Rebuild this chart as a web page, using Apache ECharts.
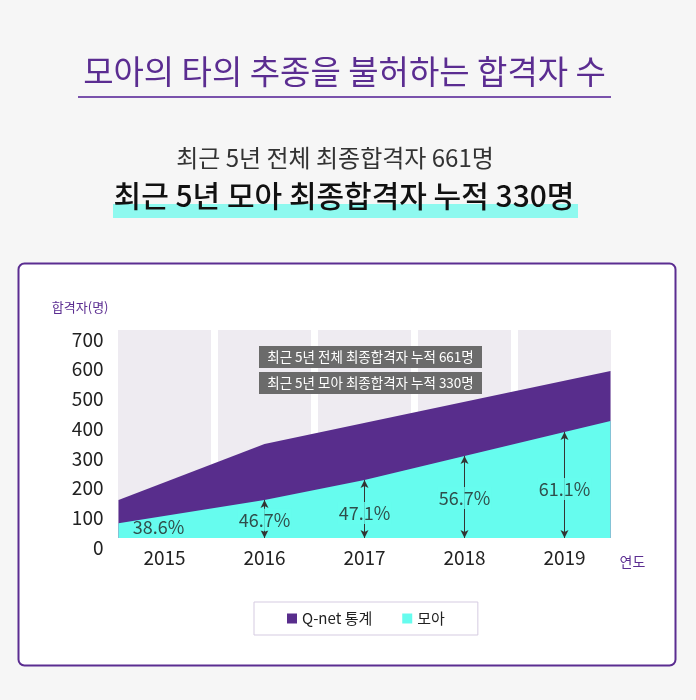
<!DOCTYPE html>
<html>
<head>
<meta charset="utf-8">
<script src="https://cdn.jsdelivr.net/npm/echarts@6/dist/echarts.min.js"></script>
<style>
html, body { margin: 0; padding: 0; background: #f6f6f6; }
#my-chart { width: 696px; height: 700px; }
</style>
</head>
<body>
<div id="my-chart"></div>
<script>
var FONT = '"Noto Sans CJK KR", "Noto Sans", sans-serif';

// 연도 (배경 칸)
var years = ['2015', '2016', '2017', '2018', '2019'];
var columnTop = [700, 700, 700, 700, 700];

// Q-net 통계 면적 꼭짓점 (양 끝은 칸 가장자리)
var qnetX = [2014.54, 2016, 2019.46];
var qnetY = [128, 316, 562];

// 모아 면적 꼭짓점
var moaX = [2014.54, 2016, 2017, 2018, 2019, 2019.46];
var moaY = [50, 128, 195, 276, 357, 394];

// 합격률 라벨
var rateYears = [2015, 2016, 2017, 2018, 2019];
var rates = [38.6, 46.7, 47.1, 56.7, 61.1];
var rateLabelY = [37, 61, 84, 135, 165];
var arrowYears = [2016, 2017, 2018, 2019];

function pairs(xs, ys) {
    return xs.map(function (x, i) { return [x, ys[i]]; });
}

var myChart = echarts.init(document.getElementById('my-chart'));

// 화살표 (0 ~ 모아 값)
var arrows = arrowYears.map(function (yr) {
    var top = moaY[moaX.indexOf(yr)];
    return [{coord: [yr, 0]}, {coord: [yr, top]}];
});

// 화살표가 있는 라벨만 배경으로 선을 가림
var rateData = rateYears.map(function (yr, i) {
    var item = {value: [yr, rateLabelY[i], rates[i]]};
    if (arrowYears.indexOf(yr) < 0) {
        item.label = {backgroundColor: 'transparent', offset: [-6, 0]};
    }
    return item;
});

var option = {
    backgroundColor: '#f6f6f6',
    animation: false,
    textStyle: {fontFamily: FONT},
    graphic: [
        // 카드
        {type: 'rect', z: -10, shape: {x: 18.5, y: 263.5, width: 657, height: 402, r: 6},
         style: {fill: '#fff', stroke: '#5b2d91', lineWidth: 2}},
        // 제목
        {type: 'text', x: 344.5, y: 71,
         style: {text: '모아의 타의 추종을 불허하는 합격자 수', font: '33px ' + FONT, fill: '#5b2d91',
                 align: 'center', verticalAlign: 'middle'}},
        {type: 'line', shape: {x1: 78, y1: 97, x2: 611, y2: 97},
         style: {stroke: '#7a52ac', lineWidth: 2}},
        {type: 'text', x: 335, y: 158,
         style: {text: '최근 5년 전체 최종합격자 661명', font: '24px ' + FONT, fill: '#333',
                 align: 'center', verticalAlign: 'middle'}},
        {type: 'rect', shape: {x: 113, y: 204, width: 465, height: 14},
         style: {fill: '#8ef9ef'}},
        {type: 'text', x: 344, y: 196,
         style: {text: '최근 5년 모아 최종합격자 누적 330명', font: '500 30px ' + FONT, fill: '#111',
                 align: 'center', verticalAlign: 'middle'}},
        // 누적 박스
        {type: 'rect', z: 100, shape: {x: 259, y: 346, width: 223, height: 22},
         style: {fill: '#6b6b6b'}},
        {type: 'text', z: 101, x: 370.5, y: 357,
         style: {text: '최근 5년 전체 최종합격자 누적 661명', font: '13.5px ' + FONT, fill: '#fff',
                 align: 'center', verticalAlign: 'middle'}},
        {type: 'rect', z: 100, shape: {x: 259, y: 372, width: 223, height: 22},
         style: {fill: '#6b6b6b'}},
        {type: 'text', z: 101, x: 370.5, y: 383,
         style: {text: '최근 5년 모아 최종합격자 누적 330명', font: '13.5px ' + FONT, fill: '#fff',
                 align: 'center', verticalAlign: 'middle'}}
    ],
    legend: {
        data: ['Q-net 통계', '모아'],
        left: 254,
        top: 602,
        padding: [9, 33],
        itemGap: 30,
        itemWidth: 10,
        itemHeight: 10,
        icon: 'rect',
        borderColor: '#d5cbe1',
        borderWidth: 1,
        backgroundColor: '#fff',
        textStyle: {fontSize: 15, color: '#222', fontFamily: FONT}
    },
    grid: {left: 114.5, right: 81.5, top: 330, bottom: 162},
    xAxis: [{
        type: 'category',
        data: years,
        name: '연도',
        nameLocation: 'end',
        nameGap: 5,
        nameTextStyle: {color: '#5b2d91', fontSize: 14, verticalAlign: 'top', padding: [17, 0, 0, 0]},
        axisLine: {show: false},
        axisTick: {show: false},
        axisLabel: {fontSize: 19, color: '#222', margin: 10}
    }, {
        type: 'value',
        min: 2014.5,
        max: 2019.5,
        show: false
    }],
    yAxis: {
        type: 'value',
        min: 0,
        max: 700,
        interval: 100,
        name: '합격자(명)',
        nameLocation: 'end',
        nameGap: 16,
        nameTextStyle: {color: '#5b2d91', fontSize: 13, align: 'right', padding: [0, 6, 0, 0]},
        axisLine: {show: false},
        axisTick: {show: false},
        splitLine: {show: false},
        axisLabel: {fontSize: 19, color: '#222', margin: 11, verticalAlign: 'top'}
    },
    series: [{
        name: '배경',
        type: 'bar',
        xAxisIndex: 0,
        data: columnTop,
        barWidth: 93,
        silent: true,
        itemStyle: {color: '#eeebf1'}
    }, {
        name: 'Q-net 통계',
        type: 'line',
        xAxisIndex: 1,
        data: pairs(qnetX, qnetY),
        symbol: 'none',
        lineStyle: {width: 0},
        areaStyle: {color: '#582d8c', opacity: 1},
        itemStyle: {color: '#582d8c'},
        silent: true
    }, {
        name: '모아',
        type: 'line',
        xAxisIndex: 1,
        data: pairs(moaX, moaY),
        symbol: 'none',
        lineStyle: {width: 0},
        areaStyle: {color: '#66fcee', opacity: 1},
        itemStyle: {color: '#66fcee'},
        silent: true,
        markLine: {
            silent: true,
            symbol: ['arrow', 'arrow'],
            symbolSize: [6, 8],
            label: {show: false},
            lineStyle: {color: '#333', width: 1, type: 'solid'},
            data: arrows
        }
    }, {
        name: '합격률',
        type: 'scatter',
        xAxisIndex: 1,
        z: 10,
        data: rateData,
        symbolSize: 0,
        silent: true,
        label: {
            show: true,
            position: 'inside',
            formatter: function (p) { return p.value[2].toFixed(1) + '%'; },
            fontSize: 18,
            color: '#222',
            backgroundColor: '#66fcee',
            padding: [2, 1]
        }
    }]
};
myChart.setOption(option);
</script>
</body>
</html>
